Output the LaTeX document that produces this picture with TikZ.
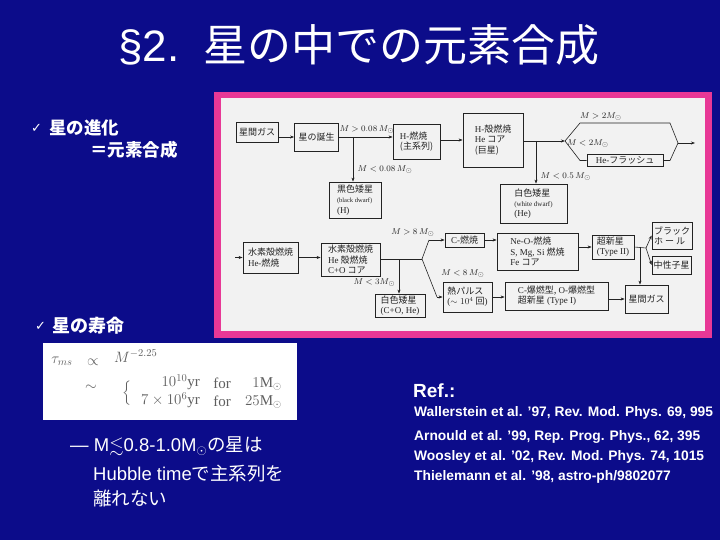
\documentclass[tikz,border=0pt]{standalone}
\usepackage{fix-cm}
\usepackage{amssymb}
\usepackage{fontspec}
\setmainfont{Liberation Serif}
\newfontfamily\jp{Noto Sans CJK JP}
\newfontfamily\ar{Liberation Sans}
\newfontfamily\dv{DejaVu Sans}
\usetikzlibrary{arrows.meta}
\definecolor{bg}{RGB}{12,12,138}
\definecolor{pinkfr}{RGB}{232,56,150}
\definecolor{paper}{RGB}{242,242,242}
\definecolor{ink}{RGB}{35,35,35}
\definecolor{fgray}{RGB}{95,95,95}
\begin{document}
\begin{tikzpicture}[x=1pt,y=-1pt,
  bx/.style={draw=ink, line width=0.8pt, fill=paper, inner sep=1pt, text=ink, align=left,
    font=\jp\fontsize{9}{10.3}\selectfont},
  ln/.style={draw=ink, line width=0.6pt},
  arr/.style={ln, -{Stealth[length=4pt,width=3pt]}},
  lab/.style={font=\fontsize{8.5}{9}\selectfont, text=ink, inner sep=0.5pt},
  wt/.style={text=white, inner sep=0pt, anchor=west},
  fm/.style={text=fgray, inner sep=0pt, font=\fontsize{15}{17}\selectfont}]
% background
\path[fill=bg] (0,0) rectangle (720,540);
% title
\node[wt, font=\jp\fontsize{44}{44}\selectfont] (title) at (118,45) {{\ar §2.}\hspace{24pt}星の中での元素合成};
% frame
\node[fill=pinkfr, minimum width=498, minimum height=246, inner sep=0, anchor=north west] (frame) at (214,92) {};
\node[fill=paper, minimum width=484, minimum height=233, inner sep=0, anchor=north west] (sheet) at (221,98) {};
% row 1 boxes
\node[bx, minimum width=42, minimum height=20] (gas1) at (257,132) {星間ガス};
\node[bx, minimum width=44, minimum height=28] (birth) at (316.5,137) {星の誕生};
\node[bx, minimum width=47, minimum height=35] (hb) at (416.5,141.5) {{\rmfamily H-}燃焼\\(主系列)};
\node[bx, minimum width=52, minimum height=36] (bd) at (355,200) {黒色矮星\\{\rmfamily\fontsize{6.5}{7.5}\selectfont (black dwarf)}\\{\rmfamily (H)}};
\node[bx, minimum width=60, minimum height=54] (hs) at (493,140) {{\rmfamily H-}殻燃焼\\{\rmfamily He} コア\\(巨星)};
\node[bx, minimum width=67, minimum height=39] (wd1) at (533.5,203.5) {白色矮星\\{\rmfamily\fontsize{7}{8}\selectfont (white dwarf)}\\{\rmfamily (He)}};
\node[bx, minimum width=76, minimum height=12, inner sep=0.2pt] (hf) at (625,160.5) {{\rmfamily He-}フラッシュ};
% row 2 boxes
\node[bx, minimum width=55, minimum height=31] (sh1) at (270.5,257.5) {水素殻燃焼\\{\rmfamily He-}燃焼};
\node[bx, minimum width=59, minimum height=33] (sh2) at (350.5,259.5) {水素殻燃焼\\{\rmfamily He} 殻燃焼\\{\rmfamily C+O} コア};
\node[bx, minimum width=50, minimum height=23] (wd2) at (400,305.5) {白色矮星\\{\rmfamily (C+O, He)}};
\node[bx, minimum width=39, minimum height=14, inner sep=0.2pt] (cb) at (464.5,240) {{\rmfamily C-}燃焼};
\node[bx, minimum width=81, minimum height=37] (neo) at (537.5,251.5) {{\rmfamily Ne-O-}燃焼\\{\rmfamily S, Mg, Si} 燃焼\\{\rmfamily Fe} コア};
\node[bx, minimum width=42, minimum height=24] (sn2) at (613,247) {超新星\\{\rmfamily (Type II)}};
\node[bx, minimum width=40, minimum height=27] (bh) at (672,235.5) {ブラック\\ホ ー ル};
\node[bx, minimum width=39, minimum height=18] (ns) at (671.5,265) {中性子星};
\node[bx, minimum width=43, minimum height=28] (gas2) at (646.5,299) {星間ガス};
\node[bx, minimum width=49, minimum height=30] (tp) at (467.5,297) {熱パルス\\{\rmfamily ($\sim10^4$} 回{\rmfamily )}};
\node[bx, minimum width=103, minimum height=28] (cd) at (556.5,296) {{\rmfamily C-}爆燃型, {\rmfamily O-}爆燃型\\超新星 {\rmfamily (Type I)}};
% row 1 connectors
\draw[arr] (gas1.east |- birth.west) -- (birth.west);
\draw[arr] (birth.east) -- (birth.east -| hb.west);
\coordinate (b1) at (353,137);
\draw[arr] (b1) -- (b1 |- bd.north);
\node[lab] (l1) at (367,130) {$M>0.08\,M_\odot$};
\node[lab, anchor=west] (l2) at (357,170) {$M<0.08\,M_\odot$};
\draw[arr] (hb.east |- hs.west) -- (hs.west);
\coordinate (s1) at (565,141);
\draw[arr] (hs.east |- s1) -- (s1);
\coordinate (b2) at (536,141);
\draw[arr] (b2) -- (b2 |- wd1.north);
\node[lab, anchor=west] (l3) at (540,177) {$M<0.5\,M_\odot$};
\coordinate (u1) at (580,123);
\coordinate (u2) at (670,123);
\coordinate (e1) at (678,143);
\coordinate (d1) at (580,160.5);
\coordinate (d2) at (670,160.5);
\coordinate (o1) at (695,143);
\draw[ln] (s1) -- (u1) -- (u2) -- (e1);
\draw[ln] (s1) -- (d1) -- (hf.west);
\draw[ln] (hf.east) -- (d2) -- (e1);
\draw[arr] (e1) -- (o1);
\node[lab] (l4) at (601,117) {$M>2M_\odot$};
\node[lab] (l5) at (588,144) {$M<2M_\odot$};
% row 2 connectors
\coordinate (in2) at (235,257.5);
\draw[arr] (in2) -- (in2 -| sh1.west);
\draw[arr] (sh1.east) -- (sh1.east -| sh2.west);
\coordinate (p2) at (422,259);
\draw[ln] (sh2.east |- p2) -- (p2);
\coordinate (b3) at (399,259);
\draw[arr] (b3) -- (b3 |- wd2.north);
\node[lab, anchor=east] (l6) at (396,283) {$M<3M_\odot$};
\coordinate (q1) at (429,240);
\coordinate (q2) at (437,297);
\draw[ln] (p2) -- (q1);
\draw[arr] (q1) -- (q1 -| cb.west);
\draw[ln] (p2) -- (q2);
\draw[arr] (q2) -- (q2 -| tp.west);
\node[lab] (l7) at (413,233) {$M>8\,M_\odot$};
\node[lab] (l8) at (463,274) {$M<8\,M_\odot$};
\draw[arr] (cb.east) -- (cb.east -| neo.west);
\draw[arr] (neo.east |- sn2.west) -- (sn2.west);
\coordinate (r1) at (646,248);
\draw[ln] (sn2.east) -- (r1);
\draw[arr] (r1) -- (bh.west);
\draw[arr] (r1) -- (ns.west);
\coordinate (b4) at (640,247);
\draw[arr] (b4) -- (b4 |- gas2.north);
\draw[arr] (tp.east) -- (tp.east -| cd.west);
\draw[arr] (cd.east |- gas2.west) -- (gas2.west);
% left texts
\node[wt, font=\dv\fontsize{13}{13}\selectfont] (ck1) at (31,128) {✓};
\node[wt, font=\jp\bfseries\fontsize{17.5}{17.5}\selectfont] (t1) at (49,128) {星の進化};
\node[wt, font=\jp\bfseries\fontsize{17.5}{17.5}\selectfont] (t2) at (90,150) {＝元素合成};
\node[wt, font=\dv\fontsize{13}{13}\selectfont] (ck2) at (35,326) {✓};
\node[wt, font=\jp\bfseries\fontsize{18}{18}\selectfont] (t3) at (52,326) {星の寿命};
% formula box
\node[fill=white, minimum width=254, minimum height=77, inner sep=0, anchor=north west] (fbox) at (43,343) {};
\node[fm] (f1) at (62,361) {$\tau_{ms}$};
\node[fm] (f2) at (93,362) {$\propto$};
\node[fm, anchor=west] (f3) at (114,356) {$M^{-2.25}$};
\node[fm] (f4) at (91,388) {$\sim$};
\node[fm, font=\fontsize{13.5}{15}\selectfont] (f5) at (127,393) {$\bigg\{$};
\node[fm, anchor=east] (f6) at (200,382) {$10^{10}\mathrm{yr}$};
\node[fm] (f7) at (222,383) {for};
\node[fm, anchor=east] (f8) at (282,384) {$1\mathrm{M}_\odot$};
\node[fm, anchor=east] (f9) at (200,400) {$7\times10^{6}\mathrm{yr}$};
\node[fm] (f10) at (222,401) {for};
\node[fm, anchor=east] (f11) at (282,402) {$25\mathrm{M}_\odot$};
% note
\node[wt, font=\ar\fontsize{18.5}{18.5}\selectfont] (n1) at (70,446) {— M$\lesssim$0.8-1.0M$_\odot${\jp の星は}};
\node[wt, font=\ar\fontsize{18.5}{18.5}\selectfont] (n2) at (93,474) {Hubble time{\jp で主系列を}};
\node[wt, font=\jp\fontsize{18.5}{18.5}\selectfont] (n3) at (93,498) {離れない};
% references
\node[wt, font=\ar\bfseries\fontsize{19}{19}\selectfont] (ref) at (413,391) {Ref.:};
\node[wt, font=\ar\bfseries\fontsize{13.8}{13.8}\selectfont] (r1t) at (414,413) {Wallerstein et al. ’97, Rev. Mod. Phys. 69, 995};
\node[wt, font=\ar\bfseries\fontsize{13.8}{13.8}\selectfont] (r2t) at (414,437) {Arnould et al. ’99, Rep. Prog. Phys., 62, 395};
\node[wt, font=\ar\bfseries\fontsize{13.8}{13.8}\selectfont] (r3t) at (414,457) {Woosley et al. ’02, Rev. Mod. Phys. 74, 1015};
\node[wt, font=\ar\bfseries\fontsize{13.8}{13.8}\selectfont] (r4t) at (414,477) {Thielemann et al. ’98, astro-ph/9802077};
\end{tikzpicture}
\end{document}
